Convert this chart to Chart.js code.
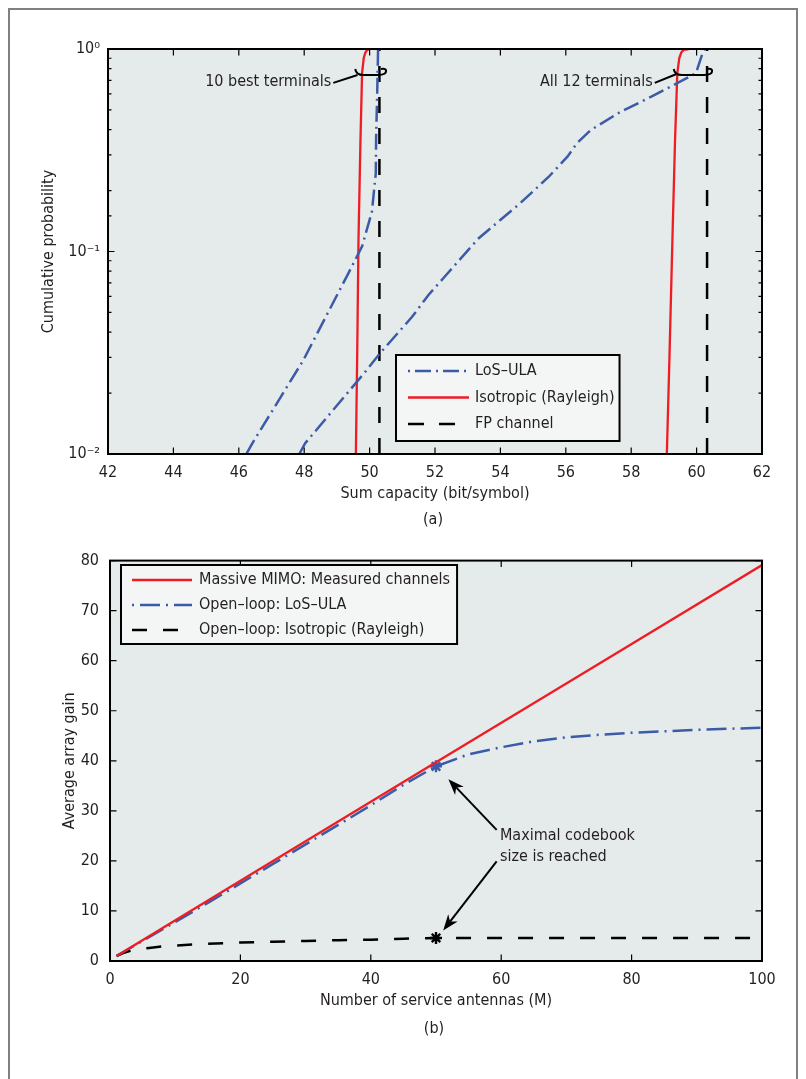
<!DOCTYPE html>
<html><head><meta charset="utf-8">
<script src="https://cdn.jsdelivr.net/npm/chart.js@4.4.1/dist/chart.umd.min.js"></script>
<style>
html,body{margin:0;padding:0;background:#fff;width:806px;height:1079px;overflow:hidden;}
#frame{position:absolute;left:8px;top:8px;width:790px;height:1100px;border:2px solid #808080;box-sizing:border-box;}
#ca{position:absolute;left:0;top:0;}
#cb{position:absolute;left:0;top:540px;}
</style></head><body>
<div id="frame"></div>
<canvas id="ca" width="806" height="540"></canvas>
<canvas id="cb" width="806" height="539"></canvas>
<script>
// ---------- (a) Sum capacity CDF ----------
const capTickStep = 2;
const probMajorLabels = ['10⁻²', '10⁻¹', '10⁰'];
const probMajorValues = [0.01, 0.1, 1];

const losBestCap  = [46.23, 46.4, 47.97, 49.35, 49.77, 50.07, 50.19, 50.2, 50.23, 50.26];
const losBestProb = [0.010, 0.0112, 0.029, 0.078, 0.106, 0.157, 0.244, 0.37, 0.58, 1.0];
const losAllCap   = [47.85, 48.03, 49.87, 50.33, 51.3, 51.8, 52.26, 53.33, 54.62, 55.48, 56.05, 56.35, 56.76, 57.68, 58.6, 59.42, 59.98, 60.18, 60.25];
const losAllProb  = [0.010, 0.0113, 0.0255, 0.0316, 0.0476, 0.061, 0.074, 0.116, 0.174, 0.234, 0.294, 0.344, 0.398, 0.49, 0.58, 0.68, 0.76, 0.95, 1.0];

const isoBestCap  = [49.58, 49.62, 49.66, 49.72, 49.77, 49.82, 49.87, 49.93, 50.0];
const isoBestProb = [0.01, 0.03, 0.114, 0.35, 0.76, 0.9, 0.96, 0.99, 1.0];
const isoAllCap   = [59.09, 59.17, 59.26, 59.34, 59.41, 59.47, 59.53, 59.6, 59.76];
const isoAllProb  = [0.01, 0.03, 0.114, 0.35, 0.76, 0.9, 0.96, 0.99, 1.0];

const fpBestCap = [50.3, 50.3];
const fpAllCap  = [60.32, 60.32];
const fpProb    = [0.01, 1.0];

const seriesNamesA = ['LoS–ULA', 'Isotropic (Rayleigh)', 'FP channel'];

// ---------- (b) Average array gain ----------
const measM    = [1, 25, 50, 75, 100];
const measGain = [1.0, 20.0, 39.7, 59.4, 79.1];
const losM     = [1, 5, 10, 15, 20, 25, 30, 35, 40, 45, 50, 55, 60, 65, 70, 75, 80, 85, 90, 95, 100];
const losGain  = [1.0, 4.0, 7.8, 11.6, 15.5, 19.4, 23.3, 27.2, 31.1, 35.2, 38.9, 41.3, 42.7, 43.9, 44.7, 45.2, 45.6, 45.9, 46.2, 46.4, 46.6];
const isoM     = [1, 2, 3, 4, 6, 8, 10, 15, 20, 25, 30, 35, 40, 45, 50, 60, 70, 80, 90, 100];
const isoGain  = [1.0, 1.6, 2.0, 2.3, 2.6, 2.9, 3.1, 3.45, 3.7, 3.85, 4.0, 4.15, 4.27, 4.45, 4.6, 4.6, 4.6, 4.6, 4.6, 4.6];
const markerM  = 50;
const seriesNamesB = ['Massive MIMO: Measured channels', 'Open–loop: LoS–ULA', 'Open–loop: Isotropic (Rayleigh)'];

// ---------- styling ----------
const TXT = '#231f20';
const FONT = "'Liberation Sans Narrow','DejaVu Sans Condensed',sans-serif";
const FS = 16;
const RED = '#ee1d24', BLUE = '#3b5ba8', BLACK = '#000000';
const PLOTBG = '#e5eaea', LEGBG = '#f4f6f6';

function xy(xs, ys) { return xs.map((x, i) => ({x: x, y: ys[i]})); }
function joined(a, b) { return a.concat([{x: null, y: null}], b); }
const f = {family: FONT, size: FS};

function drawLegend(chart, L) {
  const c = chart.ctx;
  c.save();
  c.font = FS + 'px ' + FONT;
  let tw = 0;
  chart.data.datasets.forEach(d => { tw = Math.max(tw, c.measureText(d.label).width); });
  const w = L.textX - L.x + tw + L.padR;
  c.fillStyle = LEGBG; c.fillRect(L.x, L.y, w, L.h);
  c.strokeStyle = '#000'; c.lineWidth = 2; c.strokeRect(L.x, L.y, w, L.h);
  chart.data.datasets.forEach((d, i) => {
    const yy = L.y + L.row0 + i * L.rowH;
    c.beginPath(); c.setLineDash(d.borderDash || []);
    c.lineDashOffset = d.borderDash && d.borderDash.length === 4 ? d.borderDash[0] + d.borderDash[1] : 0;
    c.strokeStyle = d.borderColor; c.lineWidth = d.borderWidth;
    c.moveTo(L.x1, yy); c.lineTo(L.x2, yy); c.stroke();
    c.setLineDash([]);
    c.fillStyle = TXT; c.textBaseline = 'middle'; c.textAlign = 'left';
    c.fillText(d.label, L.textX, yy);
  });
  c.restore();
}

function brace(c, L, R, Y) {
  c.beginPath();
  c.moveTo(L, Y - 4);
  c.quadraticCurveTo(L + 1, Y + 2, L + 8, Y + 2);
  c.lineTo(R - 8, Y + 2);
  c.quadraticCurveTo(R + 1, Y + 2, R, Y - 3);
  c.quadraticCurveTo(R - 1, Y - 5, R - 5, Y - 4);
  c.stroke();
}

function arrow(c, x1, y1, x2, y2) {
  const a = Math.atan2(y2 - y1, x2 - x1), hl = 16, hw = 6;
  const bx = x2 - hl * Math.cos(a), by = y2 - hl * Math.sin(a);
  const nx = x2 - hl * 0.7 * Math.cos(a), ny = y2 - hl * 0.7 * Math.sin(a);
  c.beginPath(); c.moveTo(x1, y1); c.lineTo(nx, ny); c.stroke();
  c.beginPath();
  c.moveTo(x2, y2);
  c.lineTo(bx + hw * Math.sin(a), by - hw * Math.cos(a));
  c.lineTo(nx, ny);
  c.lineTo(bx - hw * Math.sin(a), by + hw * Math.cos(a));
  c.closePath(); c.fill();
}

const framePlugin = {
  id: 'frame',
  beforeDatasetsDraw(chart) {
    const a = chart.chartArea, c = chart.ctx;
    c.save(); c.fillStyle = PLOTBG; c.fillRect(a.left, a.top, a.right - a.left, a.bottom - a.top); c.restore();
  },
  afterDatasetsDraw(chart, args, o) {
    const a = chart.chartArea, c = chart.ctx, xs = chart.scales.x, ys = chart.scales.y;
    c.save();
    c.strokeStyle = '#000'; c.lineWidth = 1.2; c.setLineDash([]);
    xs.ticks.forEach(t => {
      const p = xs.getPixelForValue(t.value);
      c.beginPath(); c.moveTo(p, a.bottom); c.lineTo(p, a.bottom - 6.5);
      c.moveTo(p, a.top); c.lineTo(p, a.top + 6.5); c.stroke();
    });
    ys.ticks.forEach(t => {
      const p = ys.getPixelForValue(t.value);
      let len = 6.5;
      if (o.log) { const lg = Math.log10(t.value); if (Math.abs(lg - Math.round(lg)) > 1e-6) len = 3.5; }
      c.beginPath(); c.moveTo(a.left, p); c.lineTo(a.left + len, p);
      c.moveTo(a.right, p); c.lineTo(a.right - len, p); c.stroke();
    });
    c.lineWidth = 2;
    c.strokeRect(a.left, a.top, a.right - a.left, a.bottom - a.top);
    c.restore();

    c.save();
    c.strokeStyle = '#000'; c.fillStyle = '#000'; c.lineWidth = 2; c.setLineDash([]);
    c.font = FS + 'px ' + FONT;
    (o.braces || []).forEach(b => {
      const L = xs.getPixelForValue(b.bL), R = xs.getPixelForValue(b.bR), Y = ys.getPixelForValue(b.bY);
      brace(c, L, R, Y);
      c.beginPath();
      c.moveTo(xs.getPixelForValue(b.lx1), ys.getPixelForValue(b.ly1));
      c.lineTo(xs.getPixelForValue(b.lx2), ys.getPixelForValue(b.ly2));
      c.stroke();
      c.fillStyle = TXT; c.textAlign = 'right'; c.textBaseline = 'middle';
      c.fillText(b.text, xs.getPixelForValue(b.tx), ys.getPixelForValue(b.ty));
    });
    (o.arrows || []).forEach(r => {
      c.fillStyle = '#000';
      arrow(c, xs.getPixelForValue(r.x1), ys.getPixelForValue(r.y1), xs.getPixelForValue(r.x2), ys.getPixelForValue(r.y2));
    });
    (o.notes || []).forEach(n => {
      c.fillStyle = TXT; c.textAlign = 'left'; c.textBaseline = 'middle';
      c.fillText(n.text, xs.getPixelForValue(n.x), ys.getPixelForValue(n.y));
    });
    c.restore();
    if (o.legend) drawLegend(chart, o.legend);
    if (o.caption) {
      c.save(); c.font = FS + 'px ' + FONT; c.fillStyle = TXT; c.textAlign = 'center'; c.textBaseline = 'middle';
      c.fillText(o.caption.text, (a.left + a.right) / 2 - 2, o.caption.y);
      c.restore();
    }
  }
};

function axisCommon() {
  return {grid: {display: false, drawTicks: false}, border: {display: false}};
}

new Chart(document.getElementById('ca'), {
  type: 'line',
  data: {datasets: [
    {label: seriesNamesA[0], data: joined(xy(losBestCap, losBestProb), xy(losAllCap, losAllProb)),
     borderColor: BLUE, borderWidth: 2.5, borderDash: [16, 5, 2, 5], pointRadius: 0, tension: 0, fill: false},
    {label: seriesNamesA[1], data: joined(xy(isoBestCap, isoBestProb), xy(isoAllCap, isoAllProb)),
     borderColor: RED, borderWidth: 2.3, pointRadius: 0, tension: 0, fill: false},
    {label: seriesNamesA[2], data: joined(xy(fpBestCap, fpProb), xy(fpAllCap, fpProb)),
     borderColor: BLACK, borderWidth: 2.5, borderDash: [16, 15], pointRadius: 0, tension: 0, fill: false}
  ]},
  options: {
    responsive: false, animation: false, devicePixelRatio: 1,
    layout: {padding: {left: 0, top: 49, right: 44, bottom: 0}},
    plugins: {
      legend: {display: false}, tooltip: {enabled: false},
      frame: {
        log: true,
        legend: {x: 396, y: 355, h: 86, row0: 16, rowH: 26.5, x1: 408, x2: 469, textX: 475, padR: 5},
        braces: [
          {text: '10 best terminals', tx: 48.83, ty: 0.687, lx1: 48.89, ly1: 0.68, lx2: 49.63, ly2: 0.744, bL: 49.56, bR: 50.5, bY: 0.761},
          {text: 'All 12 terminals', tx: 58.66, ty: 0.687, lx1: 58.72, ly1: 0.68, lx2: 59.37, ly2: 0.75, bL: 59.3, bR: 60.47, bY: 0.761}
        ],
        caption: {text: '(a)', y: 520}
      }
    },
    scales: {
      x: Object.assign(axisCommon(), {
        type: 'linear', min: 42, max: 62,
        ticks: {stepSize: capTickStep, font: f, color: TXT, padding: 9, maxRotation: 0},
        title: {display: true, text: 'Sum capacity (bit/symbol)', font: f, color: TXT, padding: {top: 0, bottom: 37}},
        afterFit(s) { s.height = 86; }
      }),
      y: Object.assign(axisCommon(), {
        type: 'logarithmic', min: 0.01, max: 1,
        ticks: {font: f, color: TXT, padding: 8, autoSkip: false,
          callback(v) { const i = probMajorValues.findIndex(m => Math.abs(m - v) / m < 1e-6); return i >= 0 ? probMajorLabels[i] : ''; }},
        title: {display: true, text: 'Cumulative probability', font: f, color: TXT, padding: {top: 39, bottom: 0}},
        afterFit(s) { s.width = 108; }
      })
    }
  },
  plugins: [framePlugin]
});

function starAt50(ctx) { return ctx.raw && ctx.raw.x === markerM ? 6 : 0; }

new Chart(document.getElementById('cb'), {
  type: 'line',
  data: {datasets: [
    {label: seriesNamesB[0], data: xy(measM, measGain), borderColor: RED, borderWidth: 2.3, pointRadius: 0, tension: 0, fill: false},
    {label: seriesNamesB[1], data: xy(losM, losGain), borderColor: BLUE, borderWidth: 2.5, borderDash: [20, 6, 2, 6],
     pointStyle: 'star', pointRadius: starAt50, pointBorderWidth: 2.4, pointBorderColor: BLUE, pointBackgroundColor: BLUE, tension: 0, fill: false},
    {label: seriesNamesB[2], data: xy(isoM, isoGain), borderColor: BLACK, borderWidth: 2.5, borderDash: [15, 16],
     pointStyle: 'star', pointRadius: starAt50, pointBorderWidth: 2.4, pointBorderColor: BLACK, pointBackgroundColor: BLACK, tension: 0, fill: false}
  ]},
  options: {
    responsive: false, animation: false, devicePixelRatio: 1,
    layout: {padding: {left: 0, top: 15, right: 44, bottom: 0}},
    plugins: {
      legend: {display: false}, tooltip: {enabled: false},
      frame: {
        log: false,
        legend: {x: 121, y: 25, h: 79, row0: 15, rowH: 25, x1: 132, x2: 192, textX: 199, padR: 7},
        arrows: [
          {x1: 59.3, y1: 26.2, x2: 51.9, y2: 36.3},
          {x1: 59.3, y1: 19.9, x2: 51.1, y2: 6.1}
        ],
        notes: [
          {text: 'Maximal codebook', x: 59.8, y: 25.0},
          {text: 'size is reached', x: 59.8, y: 20.9}
        ],
        caption: {text: '(b)', y: 489}
      }
    },
    scales: {
      x: Object.assign(axisCommon(), {
        type: 'linear', min: 0, max: 100,
        ticks: {stepSize: 20, font: f, color: TXT, padding: 9, maxRotation: 0},
        title: {display: true, text: 'Number of service antennas (M)', font: f, color: TXT, padding: {top: 0, bottom: 69}},
        afterFit(s) { s.height = 118; }
      }),
      y: Object.assign(axisCommon(), {
        type: 'linear', min: 0, max: 80,
        ticks: {stepSize: 10, font: f, color: TXT, padding: 11},
        title: {display: true, text: 'Average array gain', font: f, color: TXT, padding: {top: 60, bottom: 0}},
        afterFit(s) { s.width = 110; }
      })
    }
  },
  plugins: [framePlugin]
});
</script>
</body></html>
